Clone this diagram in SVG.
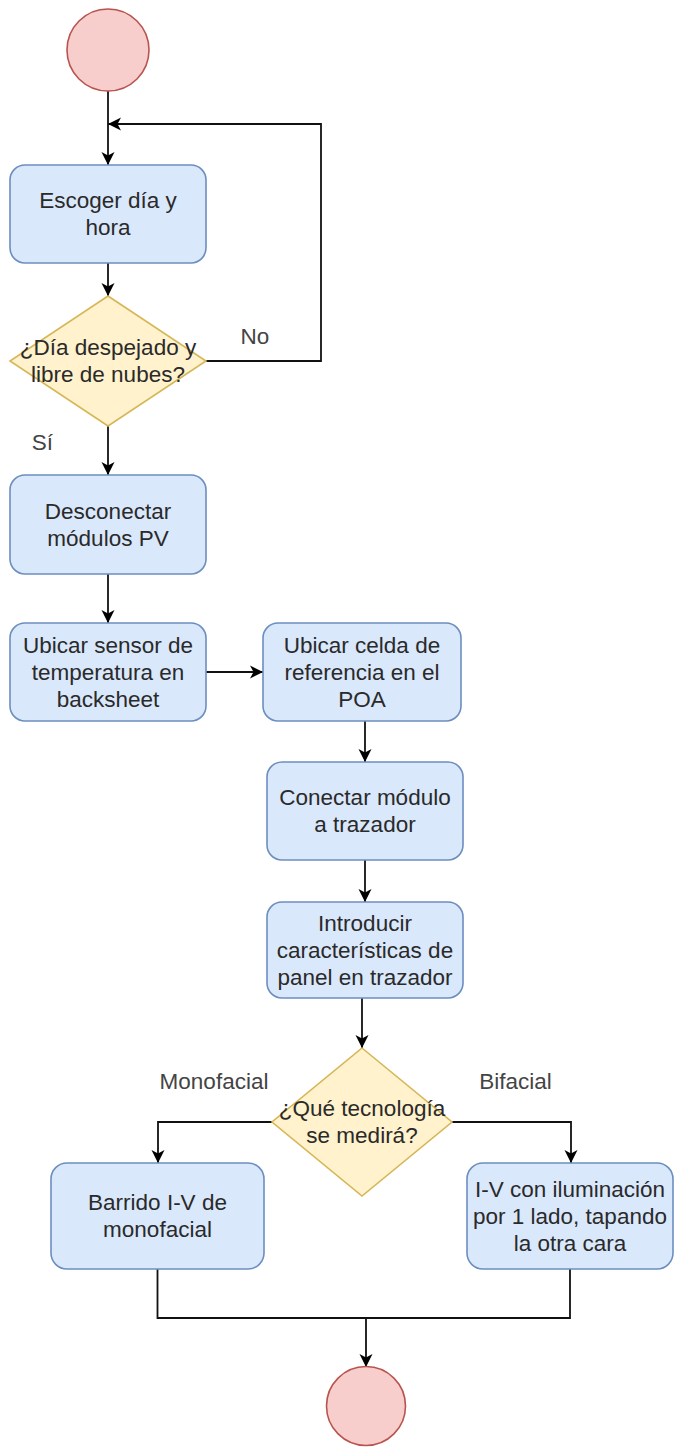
<svg xmlns="http://www.w3.org/2000/svg" width="675" height="1447" viewBox="0 0 675 1447">
<style>
.box{fill:#dae8fc;stroke:#6c8ebf;stroke-width:1.6}
.dec{fill:#fff2cc;stroke:#d6b656;stroke-width:1.6}
.term{fill:#f8cecc;stroke:#b85450;stroke-width:1.6}
.t{font-family:"Liberation Sans",Arial,sans-serif;font-size:22.5px;fill:#2a2a2a;text-anchor:middle}
.lbl{font-family:"Liberation Sans",Arial,sans-serif;font-size:22.5px;fill:#444;text-anchor:middle}
.e{fill:none;stroke:#111;stroke-width:1.8}
</style>
<defs>
<marker id="arr" markerUnits="userSpaceOnUse" markerWidth="14" markerHeight="14" refX="13" refY="7" orient="auto" viewBox="0 0 14 14">
<path d="M0,0.5 L13,7 L0,13.5 L3.5,7 Z" fill="#000"/>
</marker>
</defs>
<rect width="675" height="1447" fill="#fff"/>
<g id="connectors">
<path class="e" d="M108,91 V165" marker-end="url(#arr)"/>
<path class="e" d="M108,263 V296" marker-end="url(#arr)"/>
<path class="e" d="M206,361 H321 V124 H108" marker-end="url(#arr)"/>
<path class="e" d="M108,426 V475" marker-end="url(#arr)"/>
<path class="e" d="M108,574 V623" marker-end="url(#arr)"/>
<path class="e" d="M206,672 H263" marker-end="url(#arr)"/>
<path class="e" d="M365,721 V762" marker-end="url(#arr)"/>
<path class="e" d="M365,860 V902" marker-end="url(#arr)"/>
<path class="e" d="M362,998 V1048" marker-end="url(#arr)"/>
<path class="e" d="M272,1122 H158 V1163" marker-end="url(#arr)"/>
<path class="e" d="M452,1122 H571 V1163" marker-end="url(#arr)"/>
<path class="e" d="M157.5,1269 V1318 H366 V1367" marker-end="url(#arr)"/>
<path class="e" d="M570,1269 V1318 H366"/>
<text class="lbl" x="255" y="343.5">No</text>
<text class="lbl" x="42.5" y="449.5">Sí</text>
<text class="lbl" x="214" y="1088.5">Monofacial</text>
<text class="lbl" x="515.5" y="1088.5">Bifacial</text>
</g>
<g id="start"><circle class="term" cx="108" cy="50" r="41"/></g>
<g id="escoger">
<rect class="box" x="10" y="165" width="196" height="98" rx="15"/>
<text class="t" x="108" y="208">Escoger día y</text>
<text class="t" x="108" y="235">hora</text>
</g>
<g id="despejado">
<polygon class="dec" points="108,296 206,361 108,426 10,361"/>
<text class="t" x="108" y="355">¿Día despejado y</text>
<text class="t" x="108" y="382">libre de nubes?</text>
</g>
<g id="desconectar">
<rect class="box" x="10" y="475" width="196" height="99" rx="15"/>
<text class="t" x="108" y="518.5">Desconectar</text>
<text class="t" x="108" y="545.5">módulos PV</text>
</g>
<g id="sensor">
<rect class="box" x="10" y="623" width="196" height="98" rx="15"/>
<text class="t" x="108" y="652.5">Ubicar sensor de</text>
<text class="t" x="108" y="679.5">temperatura en</text>
<text class="t" x="108" y="706.5">backsheet</text>
</g>
<g id="celda">
<rect class="box" x="263" y="623" width="198" height="98" rx="15"/>
<text class="t" x="362" y="652.5">Ubicar celda de</text>
<text class="t" x="362" y="679.5">referencia en el</text>
<text class="t" x="362" y="706.5">POA</text>
</g>
<g id="conectar">
<rect class="box" x="267" y="762" width="196" height="98" rx="15"/>
<text class="t" x="365" y="805">Conectar módulo</text>
<text class="t" x="365" y="832">a trazador</text>
</g>
<g id="introducir">
<rect class="box" x="267" y="902" width="196" height="96" rx="15"/>
<text class="t" x="365" y="930.5">Introducir</text>
<text class="t" x="365" y="957.5">características de</text>
<text class="t" x="365" y="984.5">panel en trazador</text>
</g>
<g id="tecnologia">
<polygon class="dec" points="362,1048 452,1122 362,1196 272,1122"/>
<text class="t" x="362" y="1116">¿Qué tecnología</text>
<text class="t" x="362" y="1143">se medirá?</text>
</g>
<g id="monofacial">
<rect class="box" x="51" y="1163" width="213" height="106" rx="16"/>
<text class="t" x="157.5" y="1210">Barrido I-V de</text>
<text class="t" x="157.5" y="1237">monofacial</text>
</g>
<g id="bifacial">
<rect class="box" x="467" y="1163" width="206" height="106" rx="16"/>
<text class="t" x="570" y="1196.5">I-V con iluminación</text>
<text class="t" x="570" y="1223.5">por 1 lado, tapando</text>
<text class="t" x="570" y="1250.5">la otra cara</text>
</g>
<g id="end"><circle class="term" cx="366" cy="1406" r="39.5"/></g>
</svg>
